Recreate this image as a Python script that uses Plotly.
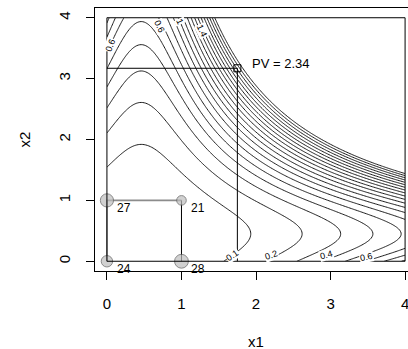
import numpy as np
import plotly.graph_objects as go

# ---- data ----
design_x1 = [0, 0, 1, 1]
design_x2 = [0, 1, 1, 0]
response = [24, 27, 21, 28]

pv_x1 = 1.75
pv_x2 = 3.17
pv_value = 2.34

# response-surface model estimated from the drawn contours
surf_center_x1 = 0.46
surf_center_x2 = 0.45
surf_offset = 0.34
surf_scale = 8.5
level_start, level_end, level_step = 0.1, 2.0, 0.1

label_text = ["0.1", "0.2", "0.4", "0.6", "0.6", "0.6", "1", "1.4"]
label_x1 = [1.69, 2.21, 2.94, 3.48, 0.05, 0.71, 0.98, 1.28]
label_x2 = [0.10, 0.10, 0.10, 0.07, 3.55, 3.85, 3.93, 3.79]
label_angle = [-35, -20, -15, -12, -70, 65, 65, 65]

tick_vals = [0, 1, 2, 3, 4]
tick_text = ["0", "1", "2", "3", "4"]

FONT = "Liberation Sans, Arial, Helvetica, sans-serif"

gx1 = np.linspace(0, 4, 201)
gx2 = np.linspace(0, 4, 201)
X1, X2 = np.meshgrid(gx1, gx2)
Z = (surf_offset + (X1 - surf_center_x1) ** 2) * (surf_offset + (X2 - surf_center_x2) ** 2) / surf_scale

fig = go.Figure()
fig.add_trace(go.Contour(
    x=gx1, y=gx2, z=Z,
    contours=dict(start=level_start, end=level_end, size=level_step, coloring="none"),
    line=dict(color="black", width=0.9),
    showscale=False, hoverinfo="skip"))

# design path lines
fig.add_trace(go.Scatter(x=[design_x1[0], design_x1[1], design_x1[2]],
                         y=[design_x2[0], design_x2[1], design_x2[2]],
                         mode="lines", line=dict(color="#8c8c8c", width=1.6),
                         hoverinfo="skip", showlegend=False))
fig.add_trace(go.Scatter(x=[design_x1[2], design_x1[3]], y=[design_x2[2], design_x2[3]],
                         mode="lines", line=dict(color="black", width=1),
                         hoverinfo="skip", showlegend=False))
# PV guide lines
fig.add_trace(go.Scatter(x=[0, pv_x1, pv_x1], y=[pv_x2, pv_x2, 0],
                         mode="lines", line=dict(color="black", width=1),
                         hoverinfo="skip", showlegend=False))
fig.add_trace(go.Scatter(x=[pv_x1], y=[pv_x2], mode="markers",
                         marker=dict(symbol="square-open", size=7, color="black", line=dict(width=1)),
                         hoverinfo="skip", showlegend=False))

# design points, size by response
sizes = [0.6 * r - 3 for r in response]
fig.add_trace(go.Scatter(x=design_x1, y=design_x2, mode="markers",
                         marker=dict(size=sizes, color="#bebebe", line=dict(color="#5a5a5a", width=1)),
                         hoverinfo="skip", showlegend=False, cliponaxis=False))

# inner region box
fig.add_shape(type="rect", x0=0, y0=0, x1=4, y1=4, line=dict(color="black", width=1), layer="above")

annotations = []
for t, a, b in zip(response, design_x1, design_x2):
    annotations.append(dict(x=a, y=b, text=str(t), showarrow=False, xanchor="left", yanchor="middle",
                            xshift=8, yshift=-8, font=dict(family=FONT, size=12, color="black")))
annotations.append(dict(x=pv_x1, y=pv_x2, text="PV = %.2f" % pv_value, showarrow=False,
                        xanchor="left", yanchor="middle", xshift=13, yshift=5,
                        font=dict(family=FONT, size=13, color="black")))
for t, a, b, ang in zip(label_text, label_x1, label_x2, label_angle):
    annotations.append(dict(x=a, y=b, text=t, showarrow=False, textangle=ang, bgcolor="white",
                            borderpad=0, font=dict(family=FONT, size=9, color="black")))
annotations.append(dict(x=2.0, y=0, xref="x", yref="paper", text="x1", showarrow=False,
                        yshift=-70, yanchor="middle", font=dict(family=FONT, size=15, color="black")))
annotations.append(dict(x=0, y=2.0, xref="paper", yref="y", text="x2", showarrow=False,
                        xshift=-71, xanchor="center", textangle=-90,
                        font=dict(family=FONT, size=15, color="black")))

fig.update_layout(
    width=408, height=349,
    margin=dict(l=95, r=0, t=8, b=78, autoexpand=False),
    paper_bgcolor="white", plot_bgcolor="white",
    showlegend=False,
    annotations=annotations,
    xaxis=dict(range=[-0.16, 4.039], tickvals=tick_vals, ticktext=tick_text,
               ticks="outside", ticklen=8, tickcolor="black", tickwidth=1,
               showline=True, mirror=True, linecolor="black", linewidth=1,
               showgrid=False, zeroline=False, ticklabelstandoff=11, automargin=False,
               ticklabeloverflow="allow",
               tickfont=dict(family=FONT, size=15, color="black")),
    yaxis=dict(range=[-0.16, 4.16], tickvals=tick_vals, ticktext=tick_text,
               ticks="outside", ticklen=8, tickcolor="black", tickwidth=1,
               showline=True, mirror=False, linecolor="black", linewidth=1,
               showgrid=False, zeroline=False, tickangle=-90, ticklabelstandoff=10,
               automargin=False,
               tickfont=dict(family=FONT, size=15, color="black")),
)

fig.write_html("out.html", config={"displayModeBar": False, "staticPlot": True},
               post_script="document.body.style.margin='0';document.body.style.overflow='hidden';")
